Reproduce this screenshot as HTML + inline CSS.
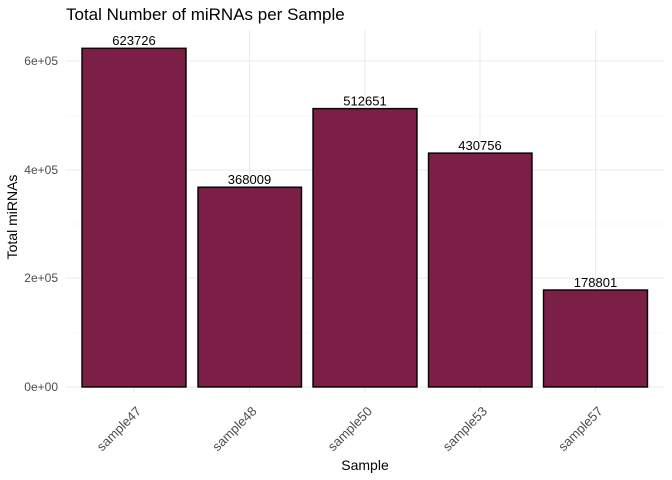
<!DOCTYPE html>
<html><head><style>body{margin:0;background:#fff}svg{display:block}</style></head><body>
<svg width="672" height="480" xmlns="http://www.w3.org/2000/svg" font-family="Liberation Sans, sans-serif">
<rect width="672" height="480" fill="#fff"/>
<g stroke="#f2f2f2" stroke-width="0.6">
<line x1="66" x2="664" y1="116" y2="116"/><line x1="66" x2="664" y1="224" y2="224"/><line x1="66" x2="664" y1="333" y2="333"/>
</g>
<g stroke="#ebebeb" stroke-width="1.1">
<line x1="66" x2="664" y1="61" y2="61"/><line x1="66" x2="664" y1="170" y2="170"/><line x1="66" x2="664" y1="278" y2="278"/><line x1="66" x2="664" y1="387" y2="387"/>
<line x1="134" x2="134" y1="30" y2="392"/><line x1="249.5" x2="249.5" y1="30" y2="392"/><line x1="365" x2="365" y1="30" y2="392"/><line x1="480" x2="480" y1="30" y2="392"/><line x1="595.5" x2="595.5" y1="30" y2="392"/>
</g>
<g fill="#7B1F47" stroke="#000" stroke-width="1.4">
<rect x="82" y="48.3" width="104" height="338.7"/>
<rect x="198" y="187.2" width="103.5" height="199.8"/>
<rect x="313" y="108.6" width="104" height="278.4"/>
<rect x="428.5" y="153.1" width="103.5" height="233.9"/>
<rect x="543.5" y="290" width="104" height="97"/>
</g>
<g font-size="13" text-anchor="middle" fill="#000">
<text x="134" y="45">623726</text><text x="249.5" y="184">368009</text><text x="365" y="105.5">512651</text><text x="480" y="150">430756</text><text x="595.5" y="287">178801</text>
</g>
<g font-size="12" text-anchor="end" fill="#4d4d4d">
<text x="58" y="65">6e+05</text><text x="58" y="174">4e+05</text><text x="58" y="282">2e+05</text><text x="58" y="391">0e+00</text>
</g>
<g font-size="13" text-anchor="end" fill="#4d4d4d">
<text transform="translate(142,412) rotate(-45)">sample47</text>
<text transform="translate(257.5,412) rotate(-45)">sample48</text>
<text transform="translate(373,412) rotate(-45)">sample50</text>
<text transform="translate(488,412) rotate(-45)">sample53</text>
<text transform="translate(603.5,412) rotate(-45)">sample57</text>
</g>
<text x="365" y="470" font-size="14" text-anchor="middle">Sample</text>
<text transform="translate(17,217) rotate(-90)" font-size="14" text-anchor="middle">Total miRNAs</text>
<text x="66" y="20" font-size="17">Total Number of miRNAs per Sample</text>
</svg>
</body></html>
